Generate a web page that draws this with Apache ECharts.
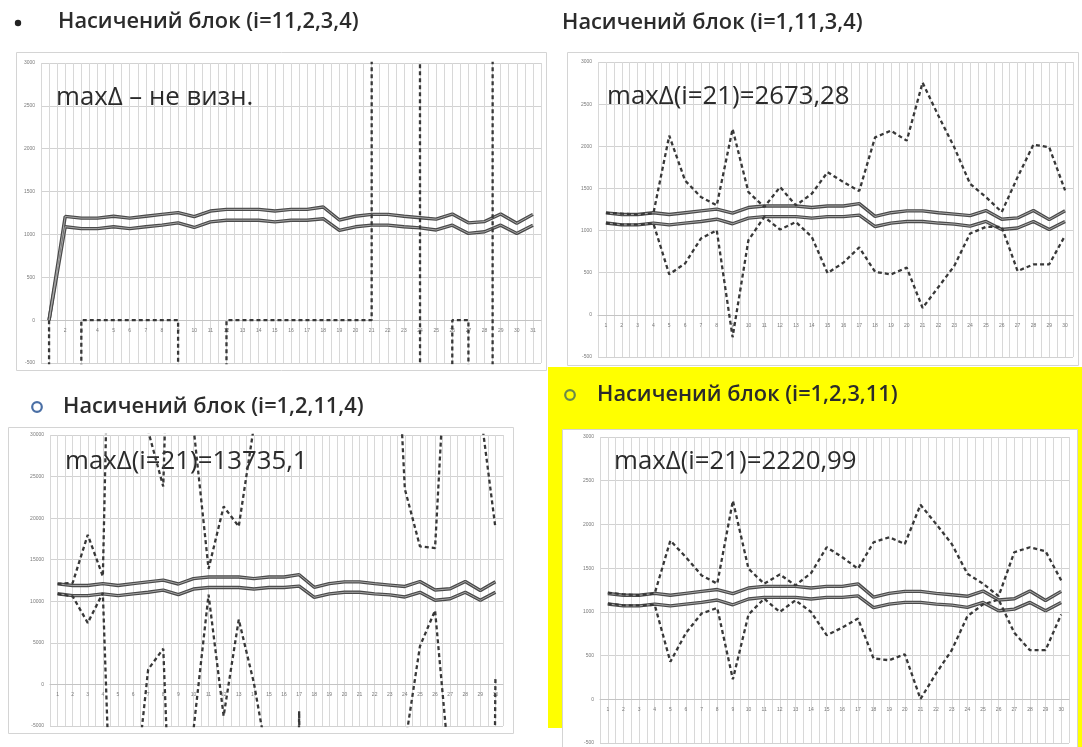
<!DOCTYPE html>
<html><head><meta charset="utf-8">
<script src="https://cdn.jsdelivr.net/npm/echarts@6/dist/echarts.min.js"></script>
<style>html,body{margin:0;padding:0;background:#fff}#c{width:1082px;height:747px}</style>
</head><body><div id="c"></div>
<script>
// ---------- data ----------
const cats31 = [1,2,3,4,5,6,7,8,9,10,11,12,13,14,15,16,17,18,19,20,21,22,23,24,25,26,27,28,29,30,31];
const cats30 = [1,2,3,4,5,6,7,8,9,10,11,12,13,14,15,16,17,18,19,20,21,22,23,24,25,26,27,28,29,30];
const yTicks = [-500,0,500,1000,1500,2000,2500,3000];
const yTicks3 = [-5000,0,5000,10000,15000,20000,25000,30000];

// solid band (panels 2 and 4)
const upperBand = [1210,1190,1190,1212,1190,1212,1234,1255,1208,1273,1292,1292,1292,1273,1292,1292,1320,1168,1212,1234,1234,1212,1195,1178,1238,1135,1150,1238,1130,1234];
const lowerBand = [1090,1068,1068,1089,1068,1089,1108,1135,1081,1147,1166,1166,1166,1147,1166,1166,1183,1048,1089,1108,1108,1089,1077,1052,1108,1012,1031,1108,1012,1108];

// panel 1 (i=11,2,3,4): 31 points, starts from 0
const p1Upper = [0,1210,1190,1190,1212,1190,1212,1234,1255,1208,1273,1292,1292,1292,1273,1292,1292,1320,1168,1212,1234,1234,1212,1195,1178,1238,1135,1150,1238,1130,1234];
const p1Lower = [0,1090,1068,1068,1089,1068,1089,1108,1135,1081,1147,1166,1166,1166,1147,1166,1166,1183,1048,1089,1108,1108,1089,1077,1052,1108,1012,1031,1108,1012,1108];
const p1Dash = [0,-1000000,0,0,0,0,0,0,0,-1000000,-1000000,0,0,0,0,0,0,0,0,0,0,1000000,1000000,0,-1000000,0,0,-1000000,1000000,1000000,1000000];

// panel 2 (i=1,11,3,4)
const p2UpperDash = [1210,1200,1190,1205,2126,1594,1398,1299,2205,1457,1280,1516,1299,1437,1693,1575,1469,2106,2185,2067,2755,2362,1988,1555,1398,1220,1634,2020,1988,1476];
const p2LowerDash = [1090,1070,1070,1083,480,610,906,1004,-265,886,1161,1012,1102,925,495,620,800,510,480,560,82,330,580,965,1043,1043,520,598,600,940];

// panel 3 (i=1,2,11,4)
const p3UpperBand = [12100,11900,11900,12120,11900,12120,12340,12550,12080,12730,12920,12920,12920,12730,12920,12920,13200,11680,12120,12340,12340,12120,11950,11780,12380,11350,11500,12380,11300,12340];
const p3LowerBand = [10900,10680,10680,10890,10680,10890,11080,11350,10810,11470,11660,11660,11660,11470,11660,11660,11830,10480,10890,11080,11080,10890,10770,10520,11080,10120,10310,11080,10120,11080];
const p3UpperDash = [12100,12200,18000,13000,97000,200000,30500,23800,86000,31000,13900,21400,19000,31000,200000,200000,200000,200000,200000,200000,200000,200000,60000,23500,16600,16400,50000,200000,33000,18800];
const p3LowerDash = [10900,10600,7400,11000,-42000,-15200,1800,4300,-42000,-5500,10800,-3800,7800,200,-10000,-200000,-3200,-200000,-200000,-200000,-200000,-200000,-200000,-7400,4600,8900,-11000,-200000,-200000,800];

// panel 4 (i=1,2,3,11)
const p4UpperDash = [1220,1200,1190,1210,1815,1625,1417,1322,2271,1493,1322,1428,1303,1443,1739,1625,1493,1796,1853,1777,2225,2005,1777,1436,1322,1180,1682,1739,1694,1360];
const p4LowerDash = [1094,1075,1075,1080,429,760,982,1045,228,970,1151,999,1132,999,733,820,923,467,447,515,4,296,562,950,1085,1140,760,562,562,970];

const titles = ['Насичений блок (i=11,2,3,4)','Насичений блок (i=1,11,3,4)','Насичений блок (i=1,2,11,4)','Насичений блок (i=1,2,3,11)'];
const notes = ['maxΔ – не визн.','maxΔ(i=21)=2673,28','maxΔ(i=21)=13735,1','maxΔ(i=21)=2220,99'];

// ---------- chart ----------
const chart = echarts.init(document.getElementById('c'), null, {renderer:'canvas'});
const pairs = (xs, ys) => xs.map((x,i)=>[x, ys[i]]);

const grids = [
  {left:41, top:63, width:500, height:300},
  {left:598, top:62, width:475, height:295},
  {left:50, top:435, width:453, height:291},
  {left:600, top:437, width:469, height:306}
];
const xMax = [31.5, 30.5, 30.5, 30.5];
const yCfg = [yTicks, yTicks, yTicks3, yTicks];

const xAxis = grids.map((g,i)=>{
  const t = yCfg[i], lo = t[0], hi = t[t.length-1];
  return {
    type:'value', gridIndex:i, min:0.5, max:xMax[i], interval:0.5, position:'bottom',
    offset: -g.height * (0 - lo) / (hi - lo),
    axisLine:{show:true, onZero:false, lineStyle:{color:'#c4c4c4', width:1}},
    axisTick:{show:false},
    splitLine:{show:true, lineStyle:{color:'#d8d8d8', width:1}},
    axisLabel:{fontSize:5, color:'#7a7a7a', margin:8, showMinLabel:false, showMaxLabel:false,
      formatter:v=>Number.isInteger(v)?String(v):''}
  };
});
const yAxis = yCfg.map((t,i)=>({
  type:'value', gridIndex:i, min:t[0], max:t[t.length-1], interval:t[1]-t[0],
  axisLine:{show:false, onZero:false}, axisTick:{show:false},
  splitLine:{show:true, lineStyle:{color:'#d2d2d2', width:1}},
  axisLabel:{fontSize:5, color:'#7a7a7a', margin:6, formatter:v=>String(v)}
}));

// solid band lines are drawn as double lines (dark outer stroke + light core)
const solid = (i, xs, ys) => ({type:'line', xAxisIndex:i, yAxisIndex:i, data:pairs(xs,ys), symbol:'none',
  clip:true, z:3, lineStyle:{color:'#4a4a4a', width:3.4}});
const solidCore = (i, xs, ys) => ({type:'line', xAxisIndex:i, yAxisIndex:i, data:pairs(xs,ys), symbol:'none',
  clip:true, z:3, lineStyle:{color:'#a8a8a8', width:1}});
const dash = (i, xs, ys) => ({type:'line', xAxisIndex:i, yAxisIndex:i, data:pairs(xs,ys), symbol:'none',
  clip:true, z:4, lineStyle:{color:'#383838', width:2.3, type:[4,3]}});

const series = [
  solid(0,cats31,p1Upper), solid(0,cats31,p1Lower), solidCore(0,cats31,p1Upper), solidCore(0,cats31,p1Lower), dash(0,cats31,p1Dash),
  solid(1,cats30,upperBand), solid(1,cats30,lowerBand), solidCore(1,cats30,upperBand), solidCore(1,cats30,lowerBand),
  dash(1,cats30,p2UpperDash), dash(1,cats30,p2LowerDash),
  solid(2,cats30,p3UpperBand), solid(2,cats30,p3LowerBand), solidCore(2,cats30,p3UpperBand), solidCore(2,cats30,p3LowerBand),
  dash(2,cats30,p3UpperDash), dash(2,cats30,p3LowerDash),
  solid(3,cats30,upperBand), solid(3,cats30,lowerBand), solidCore(3,cats30,upperBand), solidCore(3,cats30,lowerBand),
  dash(3,cats30,p4UpperDash), dash(3,cats30,p4LowerDash)
];

const titleFont = {fontFamily:'Open Sans', fontSize:21.8, fill:'#2b2b2b', fontWeight:600};
const noteFont = {fontFamily:'Open Sans', fontSize:25.8, fill:'#2b2b2b'};
const graphic = [
  // yellow highlight behind panel 4
  {type:'rect', z:-20, shape:{x:548, y:367, width:534, height:361}, style:{fill:'#ffff00'}},
  {type:'rect', z:-20, shape:{x:1076, y:700, width:6, height:47}, style:{fill:'#ffff00'}},
  // frames
  {type:'rect', z:-10, shape:{x:16.5, y:52.5, width:530, height:318}, style:{fill:'#fff', stroke:'#d4d4d4', lineWidth:1}},
  {type:'rect', z:-10, shape:{x:567.5, y:52.5, width:511, height:313}, style:{fill:'#fff', stroke:'#d4d4d4', lineWidth:1}},
  {type:'rect', z:-10, shape:{x:8.5, y:427.5, width:505, height:306}, style:{fill:'#fff', stroke:'#d4d4d4', lineWidth:1}},
  {type:'rect', z:-10, shape:{x:562.5, y:429.5, width:515, height:330}, style:{fill:'#fff', stroke:'#d4d4d4', lineWidth:1}},
  // bullets
  {type:'circle', z:5, shape:{cx:18, cy:23, r:3.2}, style:{fill:'#222'}},
  {type:'circle', z:5, shape:{cx:37, cy:407, r:4.8}, style:{fill:'none', stroke:'#4a6fa5', lineWidth:2.2}},
  {type:'circle', z:5, shape:{cx:570, cy:395, r:4.8}, style:{fill:'none', stroke:'#6b8a48', lineWidth:2.2}},
  // titles
  {type:'text', z:5, x:58, y:22, style:Object.assign({text:titles[0], textVerticalAlign:'middle'}, titleFont)},
  {type:'text', z:5, x:562, y:23, style:Object.assign({text:titles[1], textVerticalAlign:'middle'}, titleFont)},
  {type:'text', z:5, x:63, y:407, style:Object.assign({text:titles[2], textVerticalAlign:'middle'}, titleFont)},
  {type:'text', z:5, x:597, y:395, style:Object.assign({text:titles[3], textVerticalAlign:'middle'}, titleFont)},
  // notes
  {type:'text', z:1, x:56, y:98, style:Object.assign({text:notes[0], textVerticalAlign:'middle'}, noteFont)},
  {type:'text', z:1, x:607, y:97, style:Object.assign({text:notes[1], textVerticalAlign:'middle'}, noteFont)},
  {type:'text', z:1, x:65, y:462, style:Object.assign({text:notes[2], textVerticalAlign:'middle'}, noteFont)},
  {type:'text', z:1, x:614, y:462, style:Object.assign({text:notes[3], textVerticalAlign:'middle'}, noteFont)}
];

chart.setOption({
  animation:false,
  backgroundColor:'#ffffff',
  grid:grids,
  xAxis:xAxis,
  yAxis:yAxis,
  series:series,
  graphic:graphic
});
</script></body></html>
